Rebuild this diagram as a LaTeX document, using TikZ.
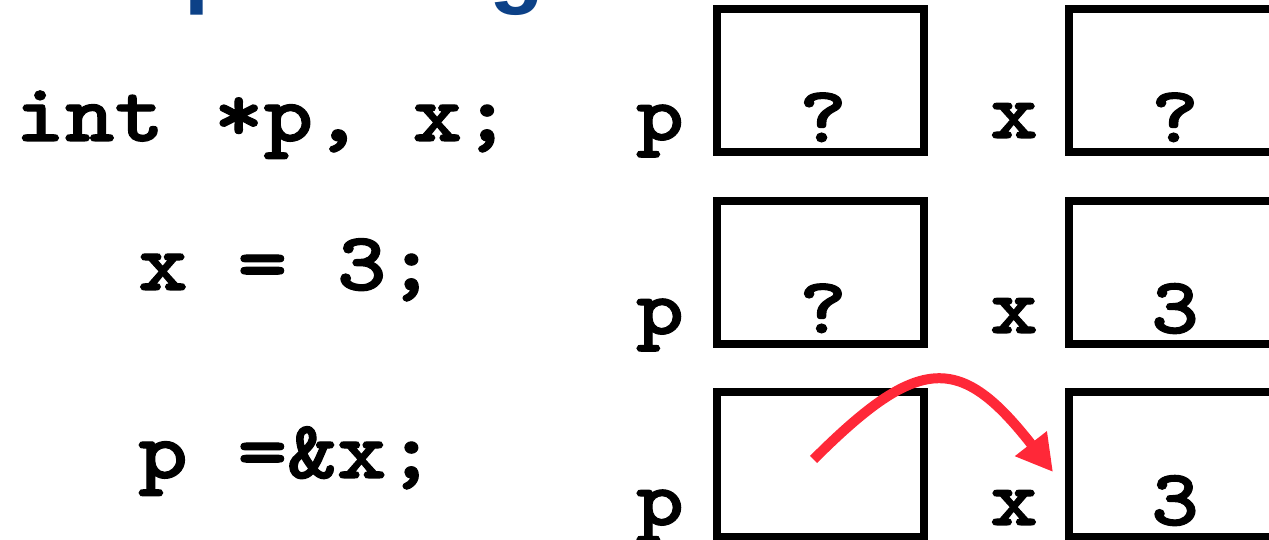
\documentclass[tikz,border=0pt]{standalone}
\usepackage{fontspec}
\newfontfamily\codefont[FakeStretch=1.14,FakeBold=1.3]{lmmonolt10-bold.otf}
\newfontfamily\titlefont{Liberation Sans}
\usetikzlibrary{arrows.meta}
\definecolor{titleblue}{RGB}{12,65,135}
\definecolor{arrowred}{RGB}{255,40,56}
\tikzset{
  code/.style={anchor=base west, inner sep=0pt, font=\codefont\fontsize{83}{90}\selectfont},
  lbl/.style={anchor=base, inner sep=0pt, font=\codefont\fontsize{80}{90}\selectfont},
  cell/.style={draw, line width=8pt, rectangle, inner sep=0pt, minimum width=207pt, minimum height=143pt},
  pointer/.style={draw=arrowred, line width=10pt, -{Triangle[length=36pt,width=38pt]}}
}
\begin{document}
\begin{tikzpicture}[x=1pt,y=1pt]
\useasboundingbox (0,0) rectangle (1269,540);
\clip (0,0) rectangle (1269,540);
% title (cut off at top)
\node[anchor=base west, inner sep=0pt, text=titleblue, font=\titlefont\bfseries\fontsize{90}{100}\selectfont] (title) at (19,543) {Simple Program};
% code
\node[code] (c1) at (15,399) {int *p, x;};
\node[code] (c2) at (138,250) {x = 3;};
\node[code] (c3) at (138,62) {p =\&x;};
% row 1
\node[cell] (pbox1) at (820.5,459.5) {};
\node[cell] (xbox1) at (1172.5,459.5) {};
\node[lbl] (pl1) at (660,400) {p};
\node[lbl] (xl1) at (1014,402) {x};
\node[lbl] (pv1) at (823,398) {?};
\node[lbl] (xv1) at (1175,398) {?};
% row 2
\node[cell] (pbox2) at (820.5,267.5) {};
\node[cell] (xbox2) at (1172.5,267.5) {};
\node[lbl] (pl2) at (660,206) {p};
\node[lbl] (xl2) at (1014,207) {x};
\node[lbl] (pv2) at (823,207) {?};
\node[lbl] (xv2) at (1175,207) {3};
% row 3
\node[cell, minimum height=145pt] (pbox3) at (820.5,75.5) {};
\node[cell, minimum height=145pt] (xbox3) at (1172.5,75.5) {};
\node[lbl] (pl3) at (660,15) {p};
\node[lbl] (xl3) at (1014,15) {x};
\node[lbl] (xv3) at (1175,15) {3};
\coordinate (tip) at ([xshift=-12pt,yshift=-7.5pt]xbox3.west);
\draw[pointer] ([xshift=-7pt,yshift=5pt]pbox3.center) to[out=45,in=128,looseness=1.6] (tip);
\end{tikzpicture}
\end{document}
